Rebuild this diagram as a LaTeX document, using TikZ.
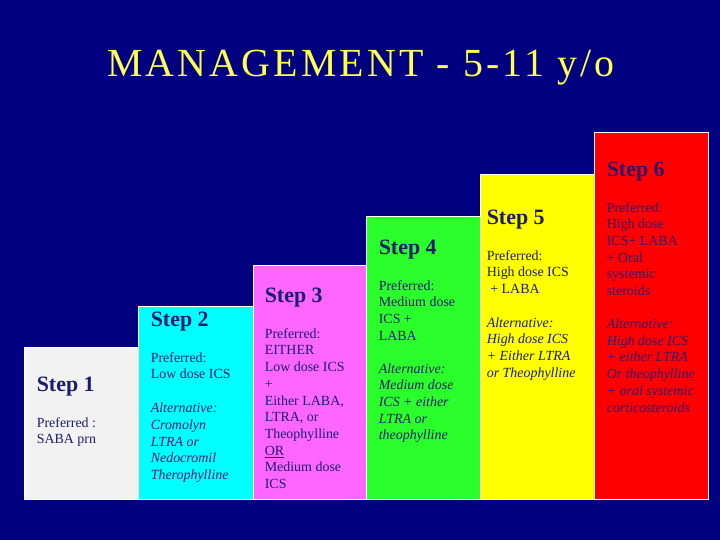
\documentclass[tikz,border=0pt]{standalone}
\usepackage{fontspec}
\setmainfont{Liberation Serif}
\newfontfamily\titlefont[LetterSpace=8]{Liberation Serif}
\usetikzlibrary{positioning}

\definecolor{slideBlue}{HTML}{000080}
\definecolor{titleYellow}{HTML}{FFFF4D}
\definecolor{stepInk}{HTML}{1C1C6E}
\definecolor{stepSixInk}{HTML}{2E1470}
\definecolor{stepOneFill}{HTML}{F2F2F2}
\definecolor{stepTwoFill}{HTML}{00FFFF}
\definecolor{stepThreeFill}{HTML}{FF66FF}
\definecolor{stepFourFill}{HTML}{2BFF2B}
\definecolor{stepFiveFill}{HTML}{FFFF00}
\definecolor{stepSixFill}{HTML}{FF0000}

\newcommand{\stephead}[1]{{\fontsize{22}{26}\selectfont\bfseries #1}}

\begin{document}
\begin{tikzpicture}[x=1bp, y=-1bp,
	stepbox/.style={draw=white, line width=0.8bp, rectangle, minimum width=114bp, inner sep=0pt},
	steptext/.style={text=stepInk, align=left, inner sep=0pt, font=\fontsize{14}{16.8}\selectfont}]
			
			%Slide background
			\fill[slideBlue] (0,0) rectangle (720,540);
			\useasboundingbox (0,0) rectangle (720,540);
			
			%Title
			\node (title) at (361,77) [anchor=base, text=titleYellow, 
			font=\titlefont\fontsize{40}{48}\selectfont]{MANAGEMENT - 5-11 y/o};
			
			%Step 1 block
			\node (stepOne) at (81,423) [stepbox, fill=stepOneFill, minimum height=152bp]{};
			\node (stepOneText) [steptext, below right=30bp and 13bp of stepOne.north west]
			{\stephead{Step 1}\\[19bp] Preferred :\\ SABA prn};
			
			%Step 2 block
			\node (stepTwo) at (195.5,402.5) [stepbox, fill=stepTwoFill, minimum width=115bp, 
			minimum height=193bp]{};
			\node (stepTwoText) [steptext, below right=6bp and 13bp of stepTwo.north west]
			{\stephead{Step 2}\\[19bp] Preferred:\\ Low dose ICS\\[17bp] \textit{Alternative:}\\ 
			\textit{Cromolyn}\\ \textit{LTRA or}\\ \textit{Nedocromil}\\ \textit{Therophylline}};
			
			%Step 3 block
			\node (stepThree) at (309.5,382) [stepbox, fill=stepThreeFill, minimum width=113bp, 
			minimum height=234bp]{};
			\node (stepThreeText) [steptext, below right=23bp and 12bp of stepThree.north west]
			{\stephead{Step 3}\\[19bp] Preferred:\\ EITHER\\ Low dose ICS\\ +\\ Either LABA,\\ 
			LTRA, or\\ Theophylline\\ \underline{OR}\\ Medium dose\\ ICS};
			
			%Step 4 block
			\node (stepFour) at (423,357.5) [stepbox, fill=stepFourFill, minimum height=283bp]{};
			\node (stepFourText) [steptext, below right=24bp and 13bp of stepFour.north west]
			{\stephead{Step 4}\\[19bp] Preferred:\\ Medium dose\\ ICS +\\ LABA\\[16bp] 
			\textit{Alternative:}\\ \textit{Medium dose}\\ \textit{ICS + either}\\ \textit{LTRA or}\\ 
			\textit{theophylline}};
			
			%Step 5 block
			\node (stepFive) at (537,336.5) [stepbox, fill=stepFiveFill, minimum height=325bp]{};
			\node (stepFiveText) [steptext, below right=36bp and 7bp of stepFive.north west]
			{\stephead{Step 5}\\[19bp] Preferred:\\ High dose ICS\\ \hspace{3.5bp}+ LABA\\[17bp] 
			\textit{Alternative:}\\ \textit{High dose ICS}\\ \textit{+ Either LTRA}\\ 
			\textit{or Theophylline}};
			
			%Step 6 block
			\node (stepSix) at (651,315.5) [stepbox, fill=stepSixFill, minimum height=367bp]{};
			\node (stepSixText) [steptext, text=stepSixInk, below right=30bp and 13bp of 
			stepSix.north west]
			{\stephead{Step 6}\\[19bp] Preferred:\\ High dose\\ ICS+ LABA\\ + Oral\\ systemic\\ 
			steroids\\[16bp] \textit{Alternative:}\\ \textit{High dose ICS}\\ \textit{+ either LTRA}\\ 
			\textit{Or theophylline}\\ \textit{+ oral systemic}\\ \textit{corticosteroids}};
			
\end{tikzpicture}
\end{document}
